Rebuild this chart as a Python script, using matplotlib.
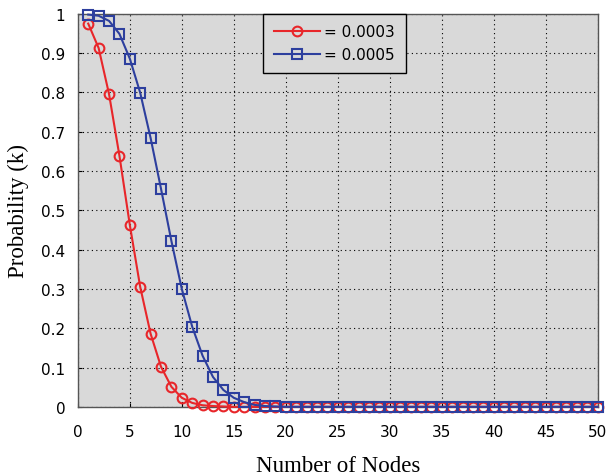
import numpy as np
import matplotlib.pyplot as plt

nodes = np.arange(1, 51)

p_0003_head = [0.975, 0.913, 0.796, 0.639, 0.463, 0.305, 0.186, 0.102, 0.051,
               0.023, 0.010, 0.004, 0.002, 0.001]
p_0005_head = [0.998, 0.995, 0.982, 0.949, 0.886, 0.799, 0.684, 0.555, 0.422,
               0.300, 0.204, 0.130, 0.076, 0.043, 0.023, 0.012, 0.005, 0.002,
               0.001]

p_0003 = p_0003_head + [0.0] * (len(nodes) - len(p_0003_head))
p_0005 = p_0005_head + [0.0] * (len(nodes) - len(p_0005_head))

labels = ['= 0.0003', '= 0.0005']

fig = plt.figure(figsize=(6.08, 4.77), dpi=100)
ax = fig.add_axes([0.128, 0.145, 0.855, 0.824])
ax.set_facecolor('#d9d9d9')

ax.plot(nodes, p_0003, color='#e8262a', marker='o', markersize=7,
        markerfacecolor='none', markeredgewidth=1.5, linewidth=1.5,
        label=labels[0], clip_on=False, zorder=3)
ax.plot(nodes, p_0005, color='#2d3f9e', marker='s', markersize=7,
        markerfacecolor='none', markeredgewidth=1.5, linewidth=1.5,
        label=labels[1], clip_on=False, zorder=4)

ax.set_xlim(0, 50)
ax.set_ylim(0, 1)
ax.set_xticks(np.arange(0, 51, 5))
ax.set_yticks(np.arange(0, 1.01, 0.1))
ax.set_yticklabels(['0', '0.1', '0.2', '0.3', '0.4', '0.5', '0.6', '0.7',
                    '0.8', '0.9', '1'])
ax.grid(True, color='black', linestyle=(0, (1, 3)), linewidth=0.8)
ax.tick_params(direction='in', length=3, labelsize=11)
ax.tick_params(axis='x', pad=12)
ax.tick_params(axis='y', pad=9)
for s in ax.spines.values():
    s.set_color('#555555')
    s.set_linewidth(1.0)

ax.set_xlabel('Number of Nodes', family='Liberation Serif', fontsize=16.5,
              labelpad=12)
ax.set_ylabel('Probability (k)', family='Liberation Serif', fontsize=16.5,
              labelpad=9)

leg = ax.legend(loc='upper center', bbox_to_anchor=(0.494, 1.0), fontsize=11,
                fancybox=False, framealpha=1, facecolor='#d9d9d9',
                edgecolor='black', handlelength=3.0, borderpad=0.7,
                handletextpad=0.3, borderaxespad=0.0)
leg.get_frame().set_linewidth(1.0)

plt.savefig('out.png', dpi=100)
